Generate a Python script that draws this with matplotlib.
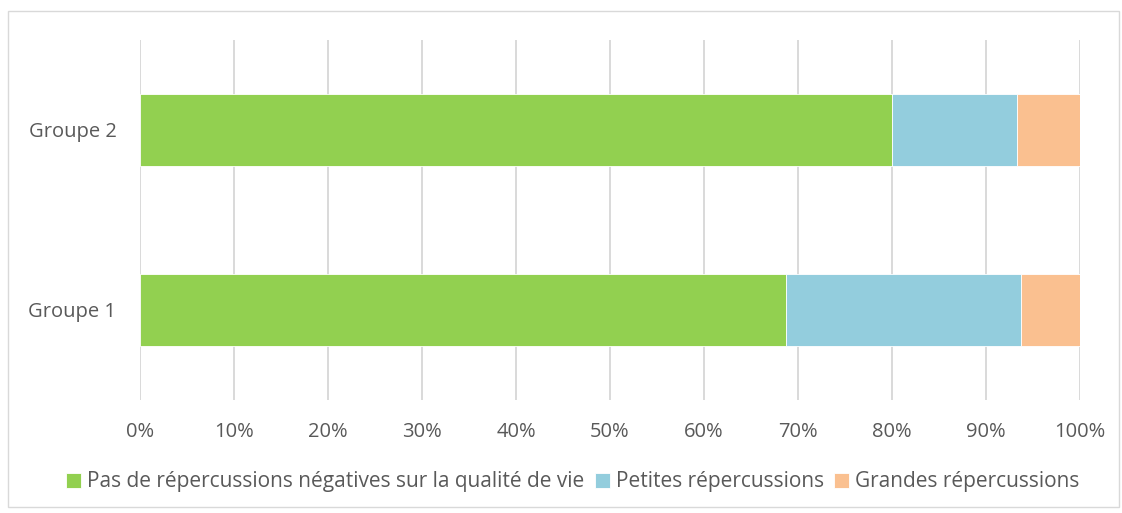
import matplotlib.pyplot as plt
from matplotlib.patches import Rectangle

groups = ["Groupe 1", "Groupe 2"]
series_names = [
    "Pas de répercussions négatives sur la qualité de vie",
    "Petites répercussions",
    "Grandes répercussions",
]
pas_de = [68.75, 80.0]
petites = [25.0, 13.33]
grandes = [6.25, 6.67]
x_ticks = [0, 10, 20, 30, 40, 50, 60, 70, 80, 90, 100]

colors = ["#92d050", "#93cddd", "#fac090"]
text_color = "#595959"

plt.rcParams["font.family"] = ["Open Sans", "DejaVu Sans"]

fig = plt.figure(figsize=(11.22, 5.13), dpi=100)
ax = fig.add_axes([140 / 1122, 1 - 400 / 513, 940 / 1122, 360 / 513])

# outer border of the chart area
fig.patches.append(Rectangle((8 / 1122, 6 / 513), 1111 / 1122, 496 / 513,
                             transform=fig.transFigure, fill=False,
                             edgecolor="#d9d9d9", linewidth=1))

ypos = list(range(len(groups)))
left = [0] * len(groups)
for name, vals, c in zip(series_names, [pas_de, petites, grandes], colors):
    ax.barh(ypos, vals, left=left, height=0.395, color=c, label=name,
            edgecolor="white", linewidth=0.6, zorder=3)
    left = [l + v for l, v in zip(left, vals)]

ax.set_xlim(0, 100)
ax.set_ylim(-0.5, 1.5)
ax.set_xticks(x_ticks)
ax.set_xticklabels([f"{t}%" for t in x_ticks])
ax.set_yticks(ypos)
ax.set_yticklabels(groups)
ax.tick_params(axis="both", length=0, labelsize=14.5, colors=text_color)
ax.tick_params(axis="x", pad=16)
ax.tick_params(axis="y", pad=17)
ax.grid(axis="x", color="#d9d9d9", linewidth=1.4, zorder=0)
for s in ax.spines.values():
    s.set_visible(False)

leg = fig.legend(loc="center", bbox_to_anchor=(573 / 1122, 1 - 482 / 513), ncol=3,
                 frameon=False, fontsize=15, handlelength=0.7, handleheight=0.7,
                 handletextpad=0.3, columnspacing=0.5)
for t in leg.get_texts():
    t.set_color(text_color)

fig.savefig("out.png", dpi=100)
